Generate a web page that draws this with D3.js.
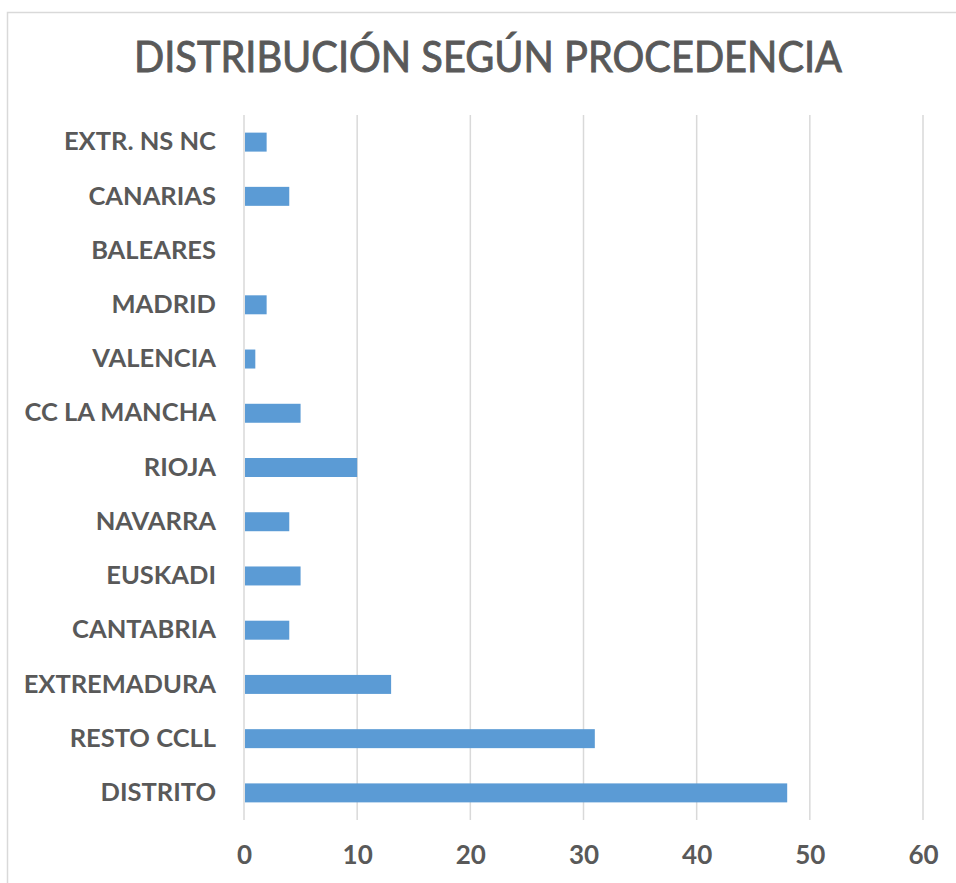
<!DOCTYPE html>
<html>
<head>
<meta charset="utf-8">
<script src="https://cdn.jsdelivr.net/npm/d3@7"></script>
<style>
  body { margin: 0; background: #fff; }
  svg { display: block; }
</style>
</head>
<body>
<svg id="chart" width="956" height="883"></svg>
<script>
// data, bottom to top as in the sheet
const categories = ["DISTRITO", "RESTO CCLL", "EXTREMADURA", "CANTABRIA", "EUSKADI", "NAVARRA",
  "RIOJA", "CC LA MANCHA", "VALENCIA", "MADRID", "BALEARES", "CANARIAS", "EXTR. NS NC"];
const values = [48, 31, 13, 4, 5, 4, 10, 5, 1, 2, 0, 4, 2];
const xTicks = [0, 10, 20, 30, 40, 50, 60];
const title = "DISTRIBUCIÓN SEGÚN PROCEDENCIA";

const svg = d3.select("#chart");
const textColor = "#595959";

// outer frame (cut off at right / bottom)
svg.append("rect")
  .attr("x", 7.5).attr("y", 12.5)
  .attr("width", 1000).attr("height", 1000)
  .attr("fill", "none").attr("stroke", "#d9d9d9").attr("stroke-width", 1.5);

// title
svg.append("text")
  .attr("x", 488).attr("y", 72)
  .attr("text-anchor", "middle")
  .attr("font-family", "Lato, 'Open Sans', sans-serif")
  .attr("font-size", 42)
  .attr("fill", textColor)
  .attr("stroke", textColor)
  .attr("stroke-width", 0.9)
  .attr("textLength", 708)
  .attr("lengthAdjust", "spacingAndGlyphs")
  .text(title);

const margin = {left: 244, right: 33, top: 115, bottom: 63};
const width = 956 - margin.left - margin.right;
const height = 883 - margin.top - margin.bottom;

const chart = svg.append("g").attr("transform", `translate(${margin.left}, ${margin.top})`);

const x = d3.scaleLinear().domain([0, 60]).range([0, width]);
const y = d3.scaleBand()
  .domain(categories.slice().reverse())
  .range([0, height])
  .paddingInner(0.65)
  .paddingOuter(0.325);

// gridlines
chart.append("g")
  .selectAll("line")
  .data(xTicks)
  .join("line")
  .attr("x1", d => x(d)).attr("x2", d => x(d))
  .attr("y1", 0).attr("y2", height)
  .attr("stroke", "#d9d9d9").attr("stroke-width", 1.5);

// bars
chart.append("g")
  .selectAll("rect")
  .data(categories.map((c, i) => ({c, v: values[i]})))
  .join("rect")
  .attr("x", x(0) + 1)
  .attr("y", d => y(d.c))
  .attr("width", d => Math.max(0, x(d.v) - x(0) - 1))
  .attr("height", y.bandwidth())
  .attr("fill", "#5b9bd5");

// x axis labels
const xAxis = chart.append("g")
  .attr("transform", `translate(0, ${height})`)
  .call(d3.axisBottom(x).tickValues(xTicks).tickSize(0).tickPadding(26));
xAxis.select(".domain").remove();
xAxis.selectAll("text")
  .attr("font-family", "Lato, sans-serif")
  .attr("font-weight", "bold")
  .attr("font-size", 26)
  .attr("fill", textColor);

// y axis labels
const yAxis = chart.append("g")
  .call(d3.axisLeft(y).tickSize(0).tickPadding(28));
yAxis.select(".domain").remove();
yAxis.selectAll("text")
  .attr("font-family", "Lato, sans-serif")
  .attr("font-weight", "bold")
  .attr("font-size", 25.5)
  .attr("fill", textColor);
</script>
</body>
</html>
